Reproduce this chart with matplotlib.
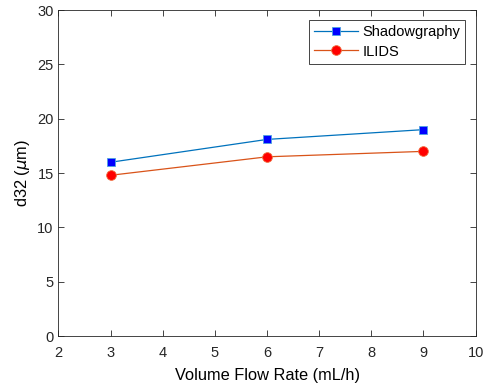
import matplotlib.pyplot as plt

plt.rcParams['font.family'] = ['Liberation Sans', 'DejaVu Sans']

# valeurs
flow_rate = [3, 6, 9]
d32_shadow = [16.0, 18.1, 19.0]
d32_ilids = [14.8, 16.5, 17.0]

fig = plt.figure(figsize=(4.85, 3.89), dpi=100)
ax = fig.add_axes([0.1206, 0.136, 0.860, 0.838])

ax.plot(flow_rate, d32_shadow, '-s', color='#0072BD', lw=0.9,
        markerfacecolor='#0000FF', markeredgecolor='#4DA3E0', markersize=5.5,
        markeredgewidth=0.6, label='Shadowgraphy')
ax.plot(flow_rate, d32_ilids, '-o', color='#D95319', lw=0.9,
        markerfacecolor='#FF0000', markeredgecolor='#F07040', markersize=7,
        markeredgewidth=0.6, label='ILIDS')

ax.set_xlim(2, 10)
ax.set_ylim(0, 30)
ax.set_xticks(range(2, 11))
ax.set_yticks(range(0, 31, 5))
ax.tick_params(direction='in', top=True, right=True, labelsize=10.5, length=4, width=0.6, colors='#262626')
ax.tick_params(axis='x', pad=7)
for s in ax.spines.values():
    s.set_linewidth(0.6)
    s.set_color('#262626')

ax.set_xlabel('Volume Flow Rate (mL/h)', fontsize=11.8, labelpad=6)
ax.set_ylabel(r'd32 ($\mu$m)', fontsize=11.8, labelpad=4)

leg = ax.legend(loc='upper right', fontsize=10.5, fancybox=False, framealpha=1,
                edgecolor='#262626', borderaxespad=0.7, handlelength=3.0,
                handletextpad=0.3, borderpad=0.35, labelspacing=0.35)
leg.get_frame().set_linewidth(0.6)

fig.savefig('out.png', dpi=100)
